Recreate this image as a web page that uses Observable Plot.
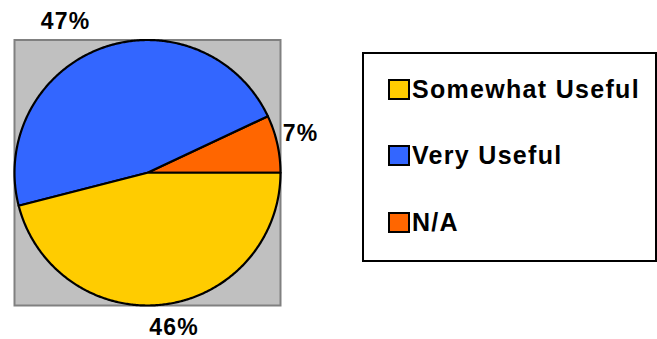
<!DOCTYPE html>
<html>
<head>
<meta charset="utf-8">
<script src="https://cdn.jsdelivr.net/npm/d3@7"></script>
<script src="https://cdn.jsdelivr.net/npm/@observablehq/plot@0.6"></script>
<style>
  html, body { margin: 0; padding: 0; background: #fff; }
  #wrap { position: relative; width: 657px; height: 339px; font-family: "Liberation Sans", Arial, sans-serif; }
  #chart svg { display: block; }
  #legend { position: absolute; left: 362px; top: 52px; width: 291px; height: 206px; border: 2px solid #000; background: #fff; }
  .item { position: absolute; left: 24px; display: flex; align-items: center; height: 26px; }
  .sw { width: 18px; height: 17px; border: 2px solid #000; margin-right: 2px; }
  .lab { font-weight: bold; font-size: 25px; letter-spacing: 1.3px; color: #000; line-height: 26px; }
</style>
</head>
<body>
<div id="wrap">
  <div id="chart"></div>
  <div id="legend"></div>
</div>
<script>
// Data
const categories = ["N/A", "Very Useful", "Somewhat Useful"]; // drawing order, counter-clockwise from 3 o'clock
const values = [7, 47, 46];
const colors = ["#FF6600", "#3366FF", "#FFCC00"];
const labels = ["7%", "47%", "46%"];
const legendOrder = ["Somewhat Useful", "Very Useful", "N/A"];

// Geometry of slices (angles in radians, counter-clockwise from east)
const total = d3.sum(values);
let acc = 0;
const slices = values.map((v, i) => {
  const a0 = acc / total * 2 * Math.PI;
  acc += v;
  const a1 = acc / total * 2 * Math.PI;
  return {cat: categories[i], a0, a1, mid: (a0 + a1) / 2, label: labels[i]};
});

const pts = [];
for (const s of slices) {
  pts.push({cat: s.cat, x: 0, y: 0});
  const n = Math.max(8, Math.ceil((s.a1 - s.a0) / 0.01));
  for (let k = 0; k <= n; k++) {
    const a = s.a0 + (s.a1 - s.a0) * k / n;
    pts.push({cat: s.cat, x: Math.cos(a), y: Math.sin(a)});
  }
  pts.push({cat: s.cat, x: 0, y: 0});
}

// label placement: mid-angle, outside the pie, with small nudges
const nudge = {"N/A": [-0.02, 0.03], "Very Useful": [-0.21, 0.01], "Somewhat Useful": [0.05, 0.025]};
const labelRows = slices.map(s => ({
  label: s.label,
  x: 1.2 * Math.cos(s.mid) + nudge[s.cat][0],
  y: 1.2 * Math.sin(s.mid) + nudge[s.cat][1]
}));

const W = 657, H = 339;
const chart = Plot.plot({
  width: W,
  height: H,
  marginLeft: 14,
  marginRight: W - 280,
  marginTop: 39.5,
  marginBottom: H - 305,
  x: {domain: [-1, 1], axis: null},
  y: {domain: [-1, 1], axis: null},
  color: {domain: categories, range: colors},
  marks: [
    Plot.frame({fill: "#C0C0C0", stroke: "#808080", strokeWidth: 2}),
    Plot.line(pts, {x: "x", y: "y", z: "cat", fill: "cat", stroke: "#000", strokeWidth: 2.2, strokeLinejoin: "round", curve: "linear"}),
    Plot.text(labelRows, {x: "x", y: "y", text: "label", fontSize: 23, fontWeight: "bold", fill: "#000",
      fontFamily: "Liberation Sans, Arial, sans-serif", clip: false})
  ]
});
chart.style.overflow = "visible";
chart.querySelectorAll("text").forEach(t => t.style.letterSpacing = "1.2px");
document.getElementById("chart").appendChild(chart);

// Legend
const legend = document.getElementById("legend");
const rowTops = [22, 88, 155];
legendOrder.forEach((c, i) => {
  const it = document.createElement("div");
  it.className = "item";
  it.style.top = rowTops[i] + "px";
  const sw = document.createElement("div");
  sw.className = "sw";
  sw.style.background = colors[categories.indexOf(c)];
  const lb = document.createElement("span");
  lb.className = "lab";
  lb.textContent = c;
  it.appendChild(sw);
  it.appendChild(lb);
  legend.appendChild(it);
});
</script>
</body>
</html>
